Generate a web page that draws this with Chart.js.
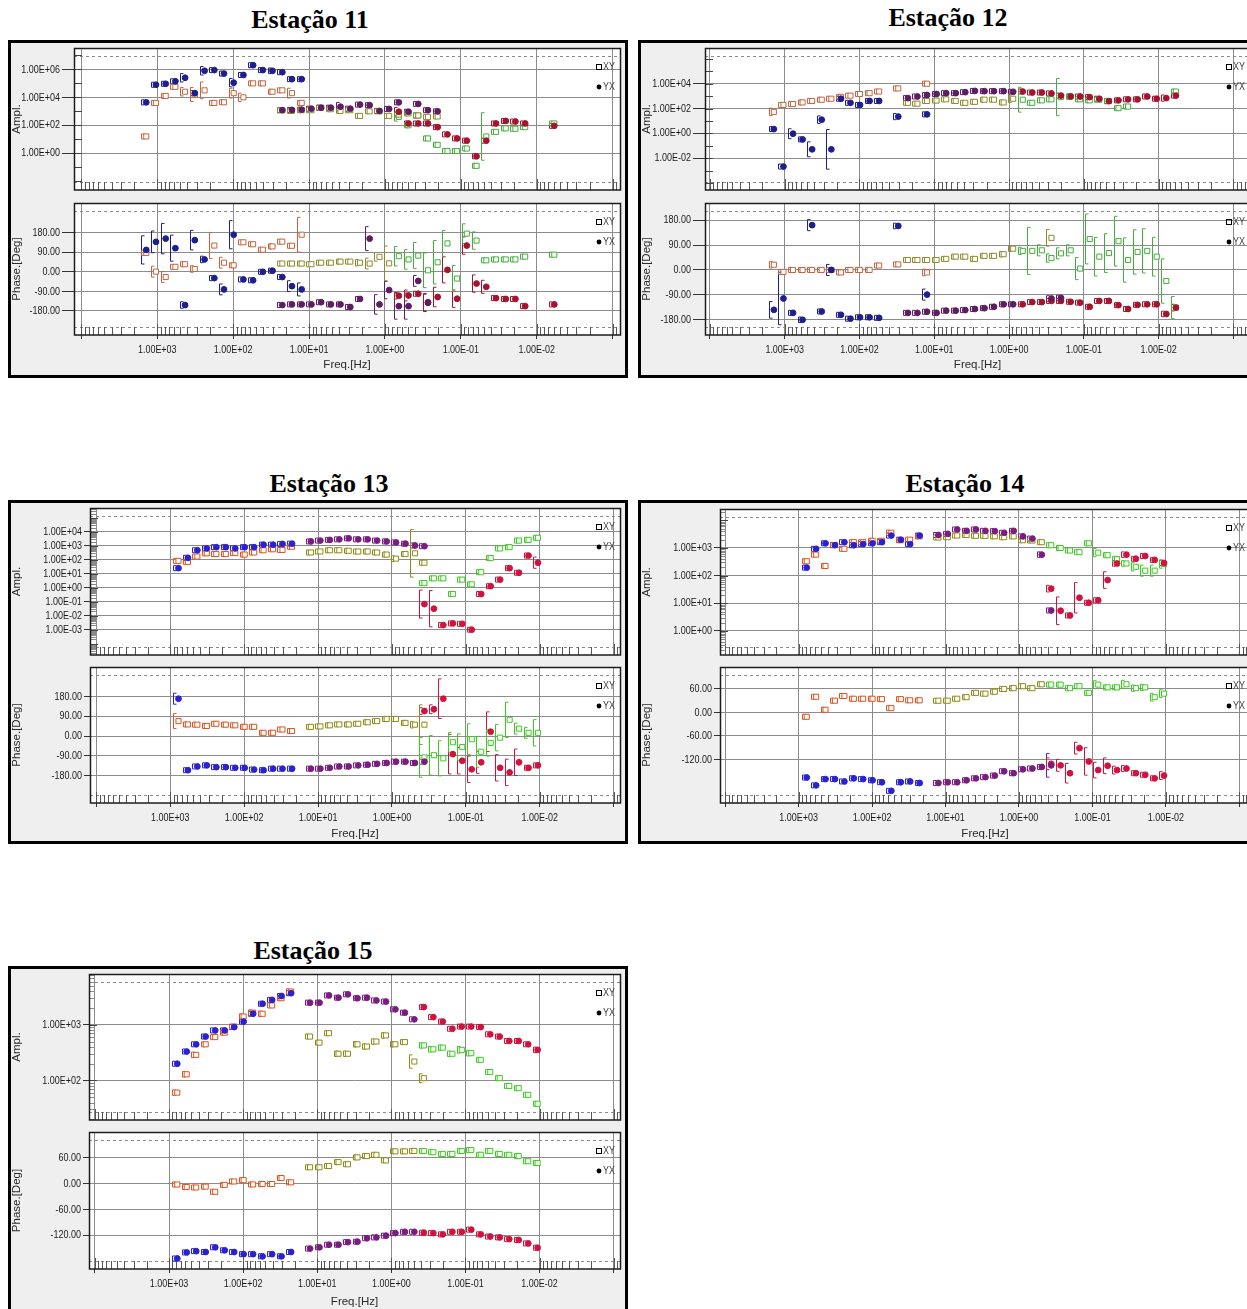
<!DOCTYPE html>
<html lang="pt">
<head>
<meta charset="UTF-8">
<title>Estações MT - curvas de amplitude e fase</title>
<script src="https://cdn.jsdelivr.net/npm/chart.js"></script>
<style>
  html, body { margin: 0; padding: 0; background: #fff; width: 1247px; height: 1309px; overflow: hidden; position: relative; }
  .title { position: absolute; font: bold 26px 'Liberation Serif', 'Times New Roman', serif; color: #000;
           white-space: nowrap; transform: translate(-50%, -50%); }
  .box { position: absolute; border: 3px solid #000; background: #efefef; box-sizing: border-box; }
  canvas { position: absolute; }
</style>
</head>
<body>
<script>
// frequency grid (Hz), same for every station
const FREQ = [1396, 1040, 774, 577, 430, 320, 238, 177, 132, 98.4, 73.3, 54.6, 40.6, 30.3, 22.5, 16.8, 12.5,
  9.31, 6.93, 5.16, 3.85, 2.86, 2.13, 1.59, 1.18, 0.881, 0.656, 0.489, 0.364, 0.271, 0.202, 0.150,
  0.112, 0.0834, 0.0621, 0.0462, 0.0344, 0.0256, 0.0191, 0.0142, 0.0106, 0.00789, 0.00587];

// amplitudes are kept as log10 values (Amp = 10^v), errors in decades; phases in degrees
// hi = high band, mid = middle band, lo = low band.  null = no point

// ---- Estação 11
const st11_hi_xyAmp = [1.2, 3.6, 4.1, 4.75, 4.4, 4.2, 4.5, 3.6, 3.65, 4.3, 4.0, 5.0, 5.0, 4.4, 4.5, 4.3, 3.6];
const st11_hi_xyAmpErr = [0, 0, 0, 0.15, 0.3, 0.5, 0.6, 0, 0, 0.35, 0.3, 0.1, 0.1, 0, 0, 0.35, 0];
const st11_hi_yxAmp = [3.64, 4.9, 4.97, 5.15, 5.4, 4.3, 5.9, 5.95, 5.7, 5.05, 5.6, 6.3, 5.95, 5.9, 5.8, 5.3, 5.3];
const st11_hi_yxAmpErr = [0, 0, 0, 0, 0.3, 0.15, 0.3, 0.1, 0, 0.3, 0.1, 0, 0, 0.2, 0, 0, 0];
const st11_hi_xyPh = [87, 1, -24, 23, 35, 13, null, 121, 42, 30, 136, 127, 102, 117, 139, 120, 171];
const st11_hi_xyPhErr = [10, 25, 25, 10, 10, 15, 0, 60, 25, 10, 10, 10, 10, 10, 8, 10, 80];
const st11_hi_yxPh = [101, 138, 153, 109, -153, 146, 57, -29, -81, 171, -35, -39, 0, 5, -24, -66, -81];
const st11_hi_yxPhErr = [65, 50, 70, 60, 15, 45, 15, 10, 25, 65, 8, 8, 8, 10, 10, 25, 30];
const st11_mid_xyAmp = [3.08, 3.03, 3.08, 3.08, 3.26, 3.15, 3.03, 3.08, 2.67, 3.0, 3.0, 2.67, 2.76, 2.85, 2.7, 2.6, 2.63];
const st11_mid_yxAmp = [3.08, 3.1, 3.12, 3.19, 3.26, 3.26, 3.33, 3.19, 3.48, 3.44, 3.03, 3.17, 3.64, 2.97, 3.53, 3.08, 3.0];
const st11_mid_yxAmpErr = [0, 0, 0, 0, 0, 0, 0.3, 0, 0, 0, 0, 0, 0, 0, 0, 0, 0];
const st11_mid_xyPh = [38, 38, 38, 35, 42, 42, 47, 47, 42, 38, 69, 39, null, null, null, null, null];
const st11_mid_xyPhErr = [0, 0, 0, 0, 0, 0, 0, 0, 15, 25, 20, 80, 0, 0, 0, 0, 0];
const st11_mid_yxPh = [-153, -150, -150, -150, -140, -150, -150, -162, -125, 153, -150, -84, -158, -158, -42, -143, null];
const st11_mid_yxPhErr = [0, 0, 0, 0, 0, 0, 10, 10, 10, 55, 45, 40, 60, 60, 25, 40, 0];
const st11_lo_xyAmp = [2.6, 2.0, 2.7, 1.06, 0.6, 0.16, 0.16, 0.34, -0.9, 1.2, 1.53, 1.78, 1.75, 1.87, null, null, 2.13];
const st11_lo_xyAmpErr = [0.3, 0, 0.2, 0, 0, 0, 0, 0, 0, 1.7, 0, 0, 0, 0, 0, 0, 0.15];
const st11_lo_yxAmp = [2.97, 2.13, 2.13, 2.13, 1.87, 1.35, 1.06, 0.9, -0.22, 0.9, 2.13, 2.31, 2.27, 2.13, null, null, 1.96];
const st11_lo_yxAmpErr = [0.3, 0, 0, 0, 0, 0, 0, 0, 0, 0, 0, 0, 0, 0, 0, 0, 0.1];
const st11_lo_xyPh = [72, 57, 75, 7, 44, 131, -31, 176, 144, 53, 57, 57, 57, 70, null, null, 79];
const st11_lo_xyPhErr = [45, 45, 60, 80, 100, 60, 60, 45, 40, 10, 0, 0, 0, 0, 0, 0, 5];
const st11_lo_yxPh = [-110, -109, -101, -140, -116, 9, -124, 121, -54, -69, -121, -125, -125, -158, null, null, -150];
const st11_lo_yxPhErr = [15, 25, 10, 40, 45, 60, 40, 40, 40, 30, 0, 0, 0, 0, 0, 0, 0];

// ---- Estação 12
const st12_hi_xyAmp = [1.73, 2.29, 2.36, 2.49, 2.61, 2.71, 2.79, 2.94, 3.04, 3.17, 3.24, 3.37, null, 3.62, null, null, 4.0];
const st12_hi_xyAmpErr = [0.3, 0, 0, 0, 0, 0, 0, 0, 0, 0, 0, 0, 0, 0, 0, 0, 0.15];
const st12_hi_yxAmp = [0.34, -2.68, -0.03, -0.49, -1.29, 1.1, -1.29, 2.79, 2.46, 2.29, 2.61, 2.61, null, 1.35, null, null, 1.53];
const st12_hi_yxAmpErr = [0, 0, 0.4, 0.2, 0.6, 0.3, 1.6, 0, 0, 0, 0, 0, 0, 0.25, 0, 0, 0];
const st12_hi_xyPh = [19, -7, 0, 0, 0, 0, 0, -9, 0, 0, 0, 16, null, 20, null, null, -9];
const st12_hi_xyPhErr = [12, 0, 0, 0, 0, 0, 0, 0, 0, 0, 0, 0, 0, 0, 0, 0, 12];
const st12_hi_yxPh = [-144, -103, -155, -180, 162, -150, 0, -162, -176, -171, -171, -173, null, 159, null, null, -89];
const st12_hi_yxPhErr = [30, 95, 8, 10, 20, 8, 20, 0, 0, 0, 0, 0, 0, 10, 0, 0, 20];
const st12_mid_xyAmp = [2.46, 2.39, 2.61, 2.64, 2.74, 2.61, 2.46, 2.54, 2.71, 2.71, 2.49, 2.79, null, null, null, null, null];
const st12_mid_xyAmpErr = [0, 0, 0, 0, 0, 0, 0, 0, 0, 0, 0.1, 0.3, 0, 0, 0, 0, 0];
const st12_mid_yxAmp = [2.84, 2.97, 3.09, 3.17, 3.24, 3.24, 3.32, 3.42, 3.4, 3.4, 3.4, 3.35, null, null, null, null, null];
const st12_mid_xyPh = [36, 36, 36, 36, 40, 48, 48, 40, 51, 51, 57, 77, null, null, null, 116, null];
const st12_mid_xyPhErr = [0, 0, 0, 0, 0, 0, 0, 0, 0, 0, 10, 10, 0, 0, 0, 30, 0];
const st12_mid_yxPh = [-155, -155, -151, -155, -147, -147, -145, -141, -138, -133, -124, -124, null, null, null, -103, -101];
const st12_mid_yxPhErr = [0, 0, 0, 0, 0, 0, 0, 0, 0, 0, 0, 0, 0, 0, 0, 10, 10];
const st12_lo_xyAmp = [2.71, 2.46, 2.66, 2.74, 2.92, 2.97, 2.74, 2.66, 2.71, 2.61, 2.03, 2.16, null, null, null, null, 3.37];
const st12_lo_xyAmpErr = [1.0, 0, 0, 0, 1.5, 0, 0, 0, 0, 0, 0, 0, 0, 0, 0, 0, 0.15];
const st12_lo_yxAmp = [3.37, 3.29, 3.29, 3.22, 3.04, 2.97, 2.97, 2.92, 2.79, 2.59, 2.66, 2.74, 2.74, 2.97, 2.79, 2.84, 3.04];
const st12_lo_yxAmpErr = [0, 0, 0, 0, 0, 0, 0, 0.1, 0, 0, 0, 0, 0.1, 0.15, 0, 0.25, 0.2];
const st12_lo_xyPh = [69, 69, 71, 43, 60, 71, 5, 112, 48, 61, 104, 36, 65, 69, 48, -40, -136];
const st12_lo_xyPhErr = [13, 85, 20, 15, 20, 20, 40, 90, 70, 70, 90, 80, 80, 80, 70, 80, 40];
const st12_lo_yxPh = [-124, -116, -116, -112, -112, -115, -118, -133, -112, -112, -127, -141, -126, -124, -124, -159, -136];
const st12_lo_yxPhErr = [0, 0, 0, 0, 0, 0, 0, 8, 8, 8, 8, 8, 8, 8, 8, 10, 12];

// ---- Estação 13
const st13_hi_xyAmp = [1.92, 1.85, 2.23, 2.46, 2.41, 2.41, 2.48, 2.37, 2.52, 2.68, 2.75, 2.70, 2.93];
const st13_hi_yxAmp = [1.40, 2.14, 2.68, 2.81, 2.9, 2.9, 2.81, 2.9, 2.9, 3.08, 3.08, 3.13, 3.15];
const st13_hi_xyPh = [68, 53, 52, 46, 56, 52, 49, 42, 42, 15, 15, 30, 23];
const st13_hi_xyPhErr = [34, 0, 0, 0, 0, 0, 0, 0, 0, 0, 0, 0, 0];
const st13_hi_yxPh = [170, -155, -138, -133, -141, -141, -144, -144, -152, -155, -148, -148, -148];
const st13_hi_yxPhErr = [25, 0, 0, 0, 0, 0, 0, 0, 0, 0, 0, 0, 0];
const st13_mid_xyAmp = [2.52, 2.59, 2.68, 2.68, 2.64, 2.59, 2.59, 2.52, 2.37, 2.08, 2.41, 2.46, 1.79];
const st13_mid_xyAmpErr = [0, 0, 0, 0, 0, 0, 0, 0, 0, 0.2, 0.15, 1.7, 0];
const st13_mid_yxAmp = [3.31, 3.37, 3.42, 3.46, 3.53, 3.46, 3.46, 3.37, 3.31, 3.24, 3.15, 3.02, 2.97];
const st13_mid_xyPh = [42, 44, 49, 53, 53, 56, 63, 68, 78, 78, 60, 52, 52];
const st13_mid_xyPhErr = [0, 0, 0, 0, 0, 0, 0, 0, 0, 10, 10, 15, 90];
const st13_mid_yxPh = [-148, -148, -144, -138, -138, -133, -130, -126, -122, -116, -116, -122, -116];
const st13_lo_xyAmp = [0.33, 0.67, 0.67, -0.45, 0.58, 0.24, 1.11, 2.12, 2.81, 2.9, 3.37, 3.42, 3.57];
const st13_lo_yxAmp = [-1.17, -1.5, -2.67, -2.55, -2.58, -3.0, -0.45, 0.11, 0.58, 1.40, 1.07, 2.30, 1.79];
const st13_lo_yxAmpErr = [1.0, 1.3, 0, 0, 0, 0, 0, 0, 0, 0, 0, 0, 0.4];
const st13_lo_xyPh = [-97, -87, -101, -28, -50, -14, -71, -31, -7, 74, 34, 15, 15];
const st13_lo_xyPhErr = [90, 90, 80, 45, 60, 70, 70, 60, 60, 80, 25, 25, 60];
const st13_lo_yxPh = [114, 122, 170, -82, -112, -151, -119, 20, -144, -165, -119, -144, -133];
const st13_lo_yxPhErr = [15, 20, 90, 90, 60, 60, 50, 90, 60, 60, 60, 8, 10];

// ---- Estação 14
const st14_hi_xyAmp = [2.52, 2.76, 2.35, 3.11, 2.97, 3.21, 3.21, 3.26, 3.26, 3.55, 3.28, 3.30, 3.42];
const st14_hi_xyAmpErr = [0, 0, 0, 0, 0, 0, 0, 0, 0, 0.1, 0, 0, 0];
const st14_hi_yxAmp = [2.29, 2.97, 3.17, 3.1, 3.21, 3.1, 3.14, 3.17, 3.21, 3.45, 3.30, 3.14, 3.45];
const st14_hi_xyPh = [-11, 40, 7, 30, 42, 35, 35, 35, 34, 11, 34, 31, 31];
const st14_hi_yxPh = [-166, -186, -170, -170, -176, -168, -170, -173, -178, -200, -178, -176, -180];
const st14_mid_xyAmp = [3.38, 3.39, 3.45, 3.47, 3.44, 3.44, 3.42, 3.39, 3.42, 3.28, 3.27, 3.21, null];
const st14_mid_yxAmp = [3.47, 3.51, 3.67, 3.62, 3.67, 3.62, 3.61, 3.55, 3.62, 3.42, 3.34, 2.76, 0.74];
const st14_mid_yxAmpErr = [0, 0, 0, 0, 0, 0, 0, 0, 0, 0, 0, 0.1, 0];
const st14_mid_xyPh = [30, 30, 35, 39, 50, 48, 53, 60, 62, 67, 62, 72, null];
const st14_mid_yxPh = [-180, -178, -178, -173, -168, -165, -161, -150, -155, -145, -143, -139, -135];
const st14_mid_yxPhErr = [0, 0, 0, 0, 0, 0, 0, 0, 0, 0, 0, 0, 30];
const st14_lo_xyAmp = [3.1, 3.0, 2.91, 2.85, 3.17, 2.83, 2.74, 2.6, 2.44, 2.32, 2.18, 2.18, 2.42];
const st14_lo_xyAmpErr = [0, 0, 0, 0, 0.05, 0.15, 0, 0.1, 0.1, 0.15, 0.2, 0.2, 0.15];
const st14_lo_yxAmp = [1.53, 0.73, 0.56, 1.2, 1.02, 1.11, 1.84, 2.44, 2.76, 2.61, 2.71, 2.57, 2.46];
const st14_lo_yxAmpErr = [0.12, 0.5, 0, 0.55, 0, 0, 0.3, 0.1, 0.1, 0, 0.08, 0.08, 0.1];
const st14_lo_xyPh = [71, 71, 62, 67, 50, 71, 64, 64, 72, 62, 64, 39, 48];
const st14_lo_xyPhErr = [0, 0, 0, 0, 0, 10, 0, 0, 10, 8, 8, 10, 10];
const st14_lo_yxPh = [-131, -135, -155, -91, -125, -147, -136, -147, -143, -155, -159, -168, -161];
const st14_lo_yxPhErr = [15, 15, 25, 15, 35, 20, 20, 10, 8, 0, 0, 0, 10];

// ---- Estação 15
const st15_hi_xyAmp = [1.78, 2.11, 2.46, 2.65, 2.78, 2.86, 2.97, 3.15, 3.22, 3.20, 3.35, 3.48, 3.60];
const st15_hi_xyAmpErr = [0.05, 0.05, 0.05, 0, 0.04, 0.04, 0.04, 0.05, 0.05, 0.05, 0.03, 0.03, 0.05];
const st15_hi_yxAmp = [2.30, 2.52, 2.65, 2.79, 2.90, 2.90, 2.96, 3.06, 3.20, 3.38, 3.45, 3.52, 3.57];
const st15_hi_xyPh = [-2, -8, -9, -7, -19, -3, 5, 8, -2, -1, -1, 13, 3];
const st15_hi_yxPh = [-174, -160, -157, -159, -148, -155, -159, -164, -164, -169, -164, -169, -159];
const st15_mid_xyAmp = [2.79, 2.68, 2.85, 2.48, 2.48, 2.65, 2.61, 2.70, 2.81, 2.65, 2.69, 2.34, 2.04];
const st15_mid_xyAmpErr = [0.02, 0.02, 0.03, 0.05, 0.05, 0.05, 0.05, 0.05, 0.05, 0.05, 0.04, 0.12, 0.08];
const st15_mid_yxAmp = [3.40, 3.40, 3.53, 3.49, 3.55, 3.48, 3.49, 3.44, 3.42, 3.28, 3.22, 3.10, null];
const st15_mid_xyPh = [38, 38, 41, 50, 45, 61, 64, 67, 54, 75, 75, 76, null];
const st15_mid_yxPh = [-151, -148, -142, -142, -136, -135, -127, -125, -121, -115, -112, -112, null];
const st15_lo_xyAmp = [2.63, 2.56, 2.59, 2.48, 2.55, 2.49, 2.37, 2.15, 2.04, 1.90, 1.86, 1.74, 1.58];
const st15_lo_xyAmpErr = [0.05, 0.05, 0.05, 0.05, 0.06, 0.05, 0.04, 0.02, 0.02, 0.02, 0.02, 0.03, 0.04];
const st15_lo_yxAmp = [3.32, 3.14, 3.06, 2.93, 2.97, 2.97, 2.96, 2.83, 2.79, 2.71, 2.71, 2.65, 2.55];
const st15_lo_yxAmpErr = [0, 0, 0, 0.04, 0.04, 0.04, 0, 0, 0, 0, 0, 0, 0.05];
const st15_lo_xyPh = [76, 73, 69, 69, 76, 78, 67, 76, 69, 67, 64, 52, 48];
const st15_lo_yxPh = [-114, -115, -118, -112, -112, -107, -118, -123, -125, -129, -131, -139, -149];

const DECADES = [1e4, 1e3, 1e2, 1e1, 1, 1e-1, 1e-2, 1e-3];
const FONT = "'Liberation Sans', Arial, sans-serif";

const PAL_DARK = { xy: ['#c4643e', '#8d8a2e', '#44ae3c'], yx: ['#1e1e8c', '#5e1c62', '#a4142e'] };
const PAL_BRIGHT = { xy: ['#e0521e', '#8e8c16', '#3acb1e'], yx: ['#2a22d0', '#7a1c80', '#d0123e'] };

// page layout of the five station boxes (pixel geometry only)
const PANELS = [
  { title: 'Estação 11', tx: 310, ty: 20, box: [8, 40, 620, 338], plotL: 74, plotR: 625,
    ampT: 43, ampB: 195, phT: 198, phB: 335, freqY: 365, xLog: [4.097, -3.097],
    ampLog: [-2.63, 7.53], ampTicks: [0, 2, 4, 6], ph: [-291, 317], phTicks: [-180, -90, 0, 90, 180],
    tickLen: 12, minor: false, pal: PAL_DARK,
    bands: [
      { start: 0, xyAmp: st11_hi_xyAmp, xyAmpErr: st11_hi_xyAmpErr, yxAmp: st11_hi_yxAmp, yxAmpErr: st11_hi_yxAmpErr,
        xyPh: st11_hi_xyPh, xyPhErr: st11_hi_xyPhErr, yxPh: st11_hi_yxPh, yxPhErr: st11_hi_yxPhErr },
      { start: 14, xyAmp: st11_mid_xyAmp, yxAmp: st11_mid_yxAmp, yxAmpErr: st11_mid_yxAmpErr,
        xyPh: st11_mid_xyPh, xyPhErr: st11_mid_xyPhErr, yxPh: st11_mid_yxPh, yxPhErr: st11_mid_yxPhErr },
      { start: 26, xyAmp: st11_lo_xyAmp, xyAmpErr: st11_lo_xyAmpErr, yxAmp: st11_lo_yxAmp, yxAmpErr: st11_lo_yxAmpErr,
        xyPh: st11_lo_xyPh, xyPhErr: st11_lo_xyPhErr, yxPh: st11_lo_yxPh, yxPhErr: st11_lo_yxPhErr }
    ] },
  { title: 'Estação 12', tx: 948, ty: 18, box: [638, 40, 620, 338], plotL: 705, plotR: 1255,
    ampT: 43, ampB: 195, phT: 198, phB: 335, freqY: 365, xLog: [4.066, -3.19],
    ampLog: [-4.57, 6.88], ampTicks: [-2, 0, 2, 4], ph: [-235, 242], phTicks: [-180, -90, 0, 90, 180],
    tickLen: 12, minor: false, pal: PAL_DARK,
    bands: [
      { start: 0, xyAmp: st12_hi_xyAmp, xyAmpErr: st12_hi_xyAmpErr, yxAmp: st12_hi_yxAmp, yxAmpErr: st12_hi_yxAmpErr,
        xyPh: st12_hi_xyPh, xyPhErr: st12_hi_xyPhErr, yxPh: st12_hi_yxPh, yxPhErr: st12_hi_yxPhErr },
      { start: 14, xyAmp: st12_mid_xyAmp, xyAmpErr: st12_mid_xyAmpErr, yxAmp: st12_mid_yxAmp,
        xyPh: st12_mid_xyPh, xyPhErr: st12_mid_xyPhErr, yxPh: st12_mid_yxPh, yxPhErr: st12_mid_yxPhErr },
      { start: 26, xyAmp: st12_lo_xyAmp, xyAmpErr: st12_lo_xyAmpErr, yxAmp: st12_lo_yxAmp, yxAmpErr: st12_lo_yxAmpErr,
        xyPh: st12_lo_xyPh, xyPhErr: st12_lo_xyPhErr, yxPh: st12_lo_yxPh, yxPhErr: st12_lo_yxPhErr }
    ] },
  { title: 'Estação 13', tx: 329, ty: 484, box: [8, 500, 620, 344], plotL: 90, plotR: 625,
    ampT: 503, ampB: 660, phT: 662, phB: 803, freqY: 834, xLog: [4.086, -3.085],
    ampLog: [-4.81, 5.70], ampTicks: [-3, -2, -1, 0, 1, 2, 3, 4], ph: [-304, 314], phTicks: [-180, -90, 0, 90, 180],
    tickLen: 6, minor: true, pal: PAL_BRIGHT,
    bands: [
      { start: 2, xyAmp: st13_hi_xyAmp, yxAmp: st13_hi_yxAmp,
        xyPh: st13_hi_xyPh, xyPhErr: st13_hi_xyPhErr, yxPh: st13_hi_yxPh, yxPhErr: st13_hi_yxPhErr },
      { start: 16, xyAmp: st13_mid_xyAmp, xyAmpErr: st13_mid_xyAmpErr, yxAmp: st13_mid_yxAmp,
        xyPh: st13_mid_xyPh, xyPhErr: st13_mid_xyPhErr, yxPh: st13_mid_yxPh },
      { start: 28, xyAmp: st13_lo_xyAmp, yxAmp: st13_lo_yxAmp, yxAmpErr: st13_lo_yxAmpErr,
        xyPh: st13_lo_xyPh, xyPhErr: st13_lo_xyPhErr, yxPh: st13_lo_yxPh, yxPhErr: st13_lo_yxPhErr }
    ] },
  { title: 'Estação 14', tx: 965, ty: 484, box: [638, 500, 620, 344], plotL: 720, plotR: 1255,
    ampT: 504, ampB: 660, phT: 662, phB: 803, freqY: 834, xLog: [4.07, -3.145],
    ampLog: [-0.87, 4.41], ampTicks: [0, 1, 2, 3], ph: [-231, 116], phTicks: [-120, -60, 0, 60],
    tickLen: 6, minor: true, pal: PAL_BRIGHT,
    bands: [
      { start: 2, xyAmp: st14_hi_xyAmp, xyAmpErr: st14_hi_xyAmpErr, yxAmp: st14_hi_yxAmp,
        xyPh: st14_hi_xyPh, yxPh: st14_hi_yxPh },
      { start: 16, xyAmp: st14_mid_xyAmp, yxAmp: st14_mid_yxAmp, yxAmpErr: st14_mid_yxAmpErr,
        xyPh: st14_mid_xyPh, yxPh: st14_mid_yxPh, yxPhErr: st14_mid_yxPhErr },
      { start: 28, xyAmp: st14_lo_xyAmp, xyAmpErr: st14_lo_xyAmpErr, yxAmp: st14_lo_yxAmp, yxAmpErr: st14_lo_yxAmpErr,
        xyPh: st14_lo_xyPh, xyPhErr: st14_lo_xyPhErr, yxPh: st14_lo_yxPh, yxPhErr: st14_lo_yxPhErr }
    ] },
  { title: 'Estação 15', tx: 313, ty: 951, box: [8, 966, 620, 350], plotL: 89, plotR: 625,
    ampT: 969, ampB: 1125, phT: 1127, phB: 1269, freqY: 1302, xLog: [4.08, -3.086],
    ampLog: [1.287, 3.916], ampTicks: [2, 3], ph: [-198.5, 120], phTicks: [-120, -60, 0, 60],
    tickLen: 6, minor: true, pal: PAL_BRIGHT,
    bands: [
      { start: 2, xyAmp: st15_hi_xyAmp, xyAmpErr: st15_hi_xyAmpErr, yxAmp: st15_hi_yxAmp,
        xyPh: st15_hi_xyPh, yxPh: st15_hi_yxPh },
      { start: 16, xyAmp: st15_mid_xyAmp, xyAmpErr: st15_mid_xyAmpErr, yxAmp: st15_mid_yxAmp,
        xyPh: st15_mid_xyPh, yxPh: st15_mid_yxPh },
      { start: 28, xyAmp: st15_lo_xyAmp, xyAmpErr: st15_lo_xyAmpErr, yxAmp: st15_lo_yxAmp, yxAmpErr: st15_lo_yxAmpErr,
        xyPh: st15_lo_xyPh, yxPh: st15_lo_yxPh }
    ] }
];

function fmtE(v) {
  const e = Math.round(Math.log10(v));
  return '1.00E' + (e < 0 ? '-' : '+') + String(Math.abs(e)).padStart(2, '0');
}

// turn one band array into scatter points; e = error (decades or degrees)
function pts(start, vals, errs, isAmp) {
  const out = [];
  if (!vals) return out;
  vals.forEach((v, i) => {
    if (v === null) return;
    out.push({ x: FREQ[start + i], y: isAmp ? Math.pow(10, v) : v, e: errs ? (errs[i] || 0) : 0 });
  });
  return out;
}

// narrow-looking label (the original uses a condensed font)
function narrowText(ctx, txt, x, y) {
  ctx.save();
  ctx.translate(x, y);
  ctx.scale(0.78, 1);
  ctx.fillText(txt, 0, 0);
  ctx.restore();
}

// "[" shaped error brackets drawn left of each marker
const errorBars = {
  id: 'errorBars',
  beforeDatasetsDraw(chart, args, opts) {
    const { ctx, chartArea: a, scales: { x, y } } = chart;
    ctx.save();
    ctx.beginPath(); ctx.rect(a.left, a.top, a.right - a.left, a.bottom - a.top); ctx.clip();
    ctx.lineWidth = 1;
    chart.data.datasets.forEach(ds => {
      ctx.strokeStyle = ds.borderColor;
      ds.data.forEach(p => {
        const px = x.getPixelForValue(p.x), py = y.getPixelForValue(p.y);
        let top = py - 2.5, bot = py + 2.5;
        if (p.e) {
          const hi = opts.amp ? p.y * Math.pow(10, p.e) : p.y + p.e;
          const lo = opts.amp ? p.y / Math.pow(10, p.e) : p.y - p.e;
          top = Math.min(top, y.getPixelForValue(hi));
          bot = Math.max(bot, y.getPixelForValue(lo));
        }
        const bx = Math.round(px - 5) + 0.5;
        ctx.beginPath();
        ctx.moveTo(bx + 3, top); ctx.lineTo(bx, top); ctx.lineTo(bx, bot); ctx.lineTo(bx + 3, bot);
        ctx.stroke();
      });
    });
    ctx.restore();
  }
};

// white plot area, minor tick strips, frame, tick labels and the XY / YX key
const decor = {
  id: 'decor',
  beforeDraw(chart) {
    const { ctx, chartArea: a } = chart;
    ctx.save();
    ctx.fillStyle = '#fff';
    ctx.fillRect(a.left, a.top, a.right - a.left, a.bottom - a.top);
    ctx.restore();
  },
  beforeDatasetsDraw(chart, args, o) {
    const { ctx, chartArea: a, scales: { x, y } } = chart;
    ctx.save();
    ctx.beginPath(); ctx.rect(a.left, a.top, a.right - a.left, a.bottom - a.top); ctx.clip();
    ctx.lineWidth = 1;
    ctx.strokeStyle = '#8a8a8a';
    ctx.setLineDash([3, 3]);
    [a.top + 8, a.bottom - 8].forEach(yy => {
      ctx.beginPath(); ctx.moveTo(a.left, Math.round(yy) + 0.5); ctx.lineTo(a.right, Math.round(yy) + 0.5); ctx.stroke();
    });
    ctx.setLineDash([]);
    ctx.strokeStyle = '#555';
    for (let d = -4; d <= 4; d++) {
      for (let m = 1; m <= 9; m++) {
        const px = x.getPixelForValue(m * Math.pow(10, d));
        if (px < a.left || px > a.right) continue;
        const len = m === 1 ? 11 : 8;
        ctx.beginPath(); ctx.moveTo(Math.round(px) + 0.5, a.bottom); ctx.lineTo(Math.round(px) + 0.5, a.bottom - len); ctx.stroke();
      }
    }
    if (o.amp) {
      for (let d = -6; d <= 8; d++) {
        for (let m = 1; m <= 9; m++) {
          if (m > 1 && !o.minor) continue;
          const py = y.getPixelForValue(m * Math.pow(10, d));
          if (py < a.top || py > a.bottom) continue;
          ctx.strokeStyle = m === 1 ? '#444' : '#8a8a8a';
          const len = m === 1 ? 8 : 6;
          ctx.beginPath(); ctx.moveTo(a.left, Math.round(py) + 0.5); ctx.lineTo(a.left + len, Math.round(py) + 0.5); ctx.stroke();
        }
      }
    }
    ctx.restore();
  },
  afterDraw(chart, args, o) {
    const { ctx, chartArea: a, scales: { x, y } } = chart;
    ctx.save();
    ctx.strokeStyle = '#1c1c1c';
    ctx.lineWidth = 1.5;
    ctx.strokeRect(a.left + 0.5, a.top + 0.5, a.right - a.left, a.bottom - a.top - 0.5);

    // tick labels
    ctx.fillStyle = '#1a1a1a';
    ctx.font = '11.5px ' + FONT;
    ctx.textBaseline = 'middle';
    ctx.textAlign = 'right';
    y.ticks.forEach(t => {
      const txt = o.amp ? fmtE(t.value) : Number(t.value).toFixed(2);
      narrowText(ctx, txt, a.left - o.tickLen - 2, y.getPixelForValue(t.value));
    });
    if (!o.amp) {
      ctx.textAlign = 'center';
      x.ticks.forEach(t => {
        if (t.value > 1001 || t.value < 0.0099) return;
        narrowText(ctx, fmtE(t.value), x.getPixelForValue(t.value), a.bottom + 15);
      });
    }

    // key
    const lx = a.right - 21, y1 = a.top + 19, y2 = a.top + 39;
    ctx.lineWidth = 1;
    ctx.strokeStyle = '#000';
    ctx.strokeRect(lx - 2.5, y1 - 2.5, 5, 5);
    ctx.fillStyle = '#000';
    ctx.beginPath(); ctx.arc(lx, y2, 2.4, 0, 2 * Math.PI); ctx.fill();
    ctx.fillStyle = '#444';
    ctx.textAlign = 'left';
    narrowText(ctx, 'XY', lx + 4, y1);
    narrowText(ctx, 'YX', lx + 4, y2);
    ctx.restore();
  }
};

function addCanvas(left, top, w, h) {
  const c = document.createElement('canvas');
  c.width = w; c.height = h;
  c.style.left = left + 'px'; c.style.top = top + 'px';
  c.style.width = w + 'px'; c.style.height = h + 'px';
  document.body.appendChild(c);
  return c;
}

function makeChart(p, isAmp) {
  const left = p.box[0] + 3;
  const w = p.plotR - left;
  const yw = p.plotL - left;
  const xh = isAmp ? 0 : p.freqY + 7 - p.phB;
  const top = isAmp ? p.ampT : p.phT;
  const h = (isAmp ? p.ampB - p.ampT : p.phB - p.phT) + xh;
  const canvas = addCanvas(left, top, w, h);

  const datasets = [];
  p.bands.forEach((b, j) => {
    datasets.push({
      label: 'YX', pointStyle: 'circle', pointRadius: 2.9, borderWidth: 1,
      borderColor: p.pal.yx[j], backgroundColor: p.pal.yx[j],
      data: isAmp ? pts(b.start, b.yxAmp, b.yxAmpErr, true) : pts(b.start, b.yxPh, b.yxPhErr, false)
    });
  });
  p.bands.forEach((b, j) => {
    datasets.push({
      label: 'XY', pointStyle: 'rect', pointRadius: 3.6, borderWidth: 1,
      borderColor: p.pal.xy[j], backgroundColor: '#ffffff',
      data: isAmp ? pts(b.start, b.xyAmp, b.xyAmpErr, true) : pts(b.start, b.xyPh, b.xyPhErr, false)
    });
  });

  const titleFont = { family: FONT, size: 11.5 };
  const gridBase = { color: '#8c8c8c', borderDash: [3, 3], tickBorderDash: [], tickColor: '#333', lineWidth: 1 };

  const yScale = isAmp ? {
    type: 'logarithmic', min: Math.pow(10, p.ampLog[0]), max: Math.pow(10, p.ampLog[1]),
    afterBuildTicks: s => { s.ticks = p.ampTicks.map(e => ({ value: Math.pow(10, e) })); },
    title: { display: true, text: 'Ampl.', color: '#2a2a2a', font: titleFont, padding: { top: -1, bottom: 0 } }
  } : {
    type: 'linear', min: p.ph[0], max: p.ph[1],
    afterBuildTicks: s => { s.ticks = p.phTicks.map(v => ({ value: v })); },
    title: { display: true, text: 'Phase.[Deg]', color: '#2a2a2a', font: titleFont, padding: { top: -1, bottom: 0 } }
  };
  yScale.position = 'left';
  yScale.ticks = { display: false, autoSkip: false };
  yScale.grid = Object.assign({}, gridBase, { drawTicks: true, tickLength: p.tickLen });
  yScale.border = { display: false };
  yScale.afterFit = s => { s.width = yw; s.paddingTop = 0; s.paddingBottom = 0; };

  const xScale = {
    type: 'logarithmic', reverse: true, position: 'bottom',
    min: Math.pow(10, p.xLog[1]), max: Math.pow(10, p.xLog[0]),
    afterBuildTicks: s => { s.ticks = DECADES.filter(v => v >= s.min && v <= s.max).map(v => ({ value: v })); },
    afterFit: s => { s.height = xh; s.paddingLeft = 0; s.paddingRight = 0; },
    grid: Object.assign({}, gridBase, { drawTicks: !isAmp, tickLength: 4 }),
    border: { display: false },
    ticks: { display: false, autoSkip: false },
    title: { display: !isAmp, text: 'Freq.[Hz]', color: '#2a2a2a', font: titleFont, padding: 0 }
  };

  return new Chart(canvas, {
    type: 'scatter',
    data: { datasets },
    options: {
      responsive: false, animation: false, events: [],
      layout: { padding: 0 },
      scales: { x: xScale, y: yScale },
      plugins: {
        legend: { display: false }, tooltip: { enabled: false },
        errorBars: { amp: isAmp },
        decor: { amp: isAmp, minor: p.minor, tickLen: p.tickLen }
      }
    },
    plugins: [decor, errorBars]
  });
}

PANELS.forEach(p => {
  const box = document.createElement('div');
  box.className = 'box';
  box.style.left = p.box[0] + 'px'; box.style.top = p.box[1] + 'px';
  box.style.width = p.box[2] + 'px'; box.style.height = p.box[3] + 'px';
  document.body.appendChild(box);

  const t = document.createElement('div');
  t.className = 'title';
  t.textContent = p.title;
  t.style.left = p.tx + 'px'; t.style.top = p.ty + 'px';
  document.body.appendChild(t);

  makeChart(p, true);
  makeChart(p, false);
});
</script>
</body>
</html>
